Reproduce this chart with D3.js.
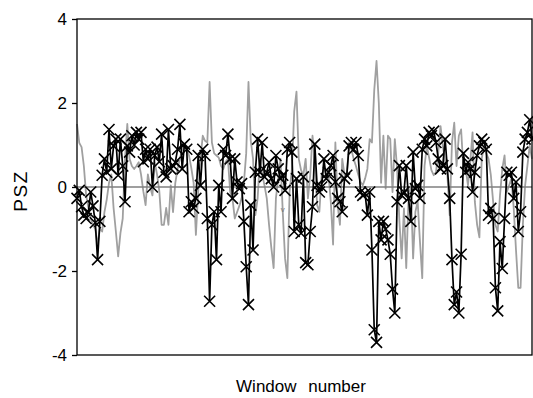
<!DOCTYPE html>
<html><head><meta charset="utf-8">
<script src="https://cdn.jsdelivr.net/npm/d3@7"></script>
<style>body{margin:0;background:#fff}svg{display:block}</style>
</head><body><svg id="c" width="533" height="398"></svg>
<script>
const yTicks = [-4, -2, 0, 2, 4];
const yLabel = "PSZ";
const xLabel = "Window number";
const blackSeries = [
-0.27,-0.08,-0.47,-0.67,-0.75,-0.6,-0.12,-0.45,-0.85,-1.73,
-0.82,0.28,0.67,0.35,1.37,0.43,0.98,1.14,0.28,1.14,
0.5,-0.35,0.98,0.83,1.22,1.0,1.3,1.14,1.3,0.6,
0.9,0.67,0.9,0.0,0.75,0.95,0.6,1.26,0.35,0.24,
1.37,0.43,0.51,0.59,0.9,1.49,0.43,1.02,0.9,-0.59,
-0.35,-0.5,-0.27,0.75,0.04,0.9,0.75,-0.75,-2.72,-0.9,
-0.59,-1.73,0.04,-0.59,0.9,0.75,1.26,0.67,-0.27,0.67,
0.12,-0.04,0.08,-0.82,-1.9,-2.8,-0.43,-1.5,0.35,1.14,
0.35,1.06,0.24,0.35,0.59,0.2,0.0,0.75,0.43,0.2,
0.28,-0.08,0.9,1.06,0.83,-1.06,0.2,-0.9,-1.1,0.24,
-1.8,-1.85,-1.06,-0.47,1.02,0.04,-0.12,0,0.67,0.2,
0.35,0.51,0.75,0.12,-0.27,-0.35,-0.59,0.2,0.28,0.98,
1.06,0.9,1.06,0.75,-0.12,-0.2,-0.16,-0.67,-0.12,-1.5,
-3.4,-3.7,-0.82,-1.26,-0.82,-1.0,-1.26,-1.6,-2.43,-3.0,
-0.35,0.51,-0.2,-0.12,0.51,-0.27,-0.82,0.83,-0.04,0.04,
-0.27,0.9,1.14,0.98,1.3,1.22,1.33,1.06,0.67,0.43,
0.51,1.14,0.43,-0.27,-1.73,-2.8,-2.5,-3.0,-1.6,0.8,
0.35,0.59,0.43,-0.12,0.35,0.75,0.98,1.14,1.06,0.9,
-0.67,-0.51,-0.75,-2.4,-2.95,-1.3,-1.94,-0.75,0.35,0.28,
0.35,-0.27,0.12,-1.06,-0.59,0.83,1.14,1.3,1.6,1.14
];
const graySeries = [
1.5,1.05,0.95,0.5,-0.2,-0.5,-0.75,-0.9,-1.0,-1.37,
-1.0,-1.06,-0.6,-0.3,0.1,0.3,-0.5,-1.06,-1.65,-1.1,
-0.75,0.67,1.5,0.67,0.5,0.43,0.5,0.59,0.3,-0.1,
-0.43,0.3,0.0,-0.2,0.59,0.3,-0.1,-0.9,-0.9,-0.5,
-0.9,0.04,-0.6,0.1,0.43,0.67,0.9,0.98,0.9,0.75,
0.45,0.1,-1.14,-0.12,0.67,1.22,1.1,1.06,2.5,1.06,
0.8,0.75,0.7,0.5,0.43,0.6,0.67,-0.12,-0.27,-0.75,
-0.6,-0.45,-0.27,0.1,0.8,2.5,1.1,0.67,-0.67,-0.27,
0.67,0.3,0.04,-0.27,-0.9,-1.45,-1.93,-0.27,0.2,0.67,
-0.6,-1.7,-2.17,-0.1,0.43,1.8,2.27,0.67,0.4,0.28,
0.67,-0.27,0.28,1.22,0.67,-0.43,-0.59,0.28,0.43,0.3,
0.28,-0.35,-1.37,1.06,-0.43,-0.9,0.67,0.28,0.28,1.06,
0.9,0.67,0.5,0.3,0.12,0.04,0.2,0.43,1.14,1.06,
2.3,3.0,2.0,0.1,1.22,-0.04,1.22,1.14,-0.12,1.14,
0.43,-0.8,-1.7,-0.51,-1.93,-0.27,0.04,-1.7,-0.59,-0.35,
-1.3,-2.17,0.5,0.98,0.7,0.4,0.28,0.35,0.8,1.45,
0.98,0.6,0.28,-0.67,1.06,1.53,0.5,1.22,1.37,0.43,
0.43,0.04,0.6,1.3,-0.35,-0.9,-1.2,0.67,0.98,0.8,
0.67,0.28,-0.35,-0.9,-1.06,-0.2,0.43,0.75,-0.12,0.04,
0.2,-0.5,-1.5,-2.4,-2.4,-0.9,0.04,0.51,0.98,0.67
];

const svg = d3.select("#c");
const L = 77, R = 532, T = 19, B = 355;
const x = d3.scaleLinear().domain([1, blackSeries.length]).range([L, R]);
const y = d3.scaleLinear().domain([-4, 4]).range([B, T]);
const font = "'Liberation Sans', Arial, sans-serif";

// gray series
svg.append("path")
  .datum(graySeries)
  .attr("fill", "none")
  .attr("stroke", "#a0a0a0")
  .attr("stroke-width", 1.8)
  .attr("stroke-linejoin", "round")
  .attr("d", d3.line().x((d, i) => x(i + 1)).y(d => y(d)));

// zero line
svg.append("line")
  .attr("x1", L).attr("x2", R)
  .attr("y1", y(0)).attr("y2", y(0))
  .attr("stroke", "#7f7f7f").attr("stroke-width", 1.4);

// black series
svg.append("path")
  .datum(blackSeries)
  .attr("fill", "none")
  .attr("stroke", "#000")
  .attr("stroke-width", 1.7)
  .attr("stroke-linejoin", "round")
  .attr("d", d3.line().x((d, i) => x(i + 1)).y(d => y(d)));

const s = 5.5;
const marks = svg.append("g");
blackSeries.forEach((d, i) => {
  const cx = x(i + 1), cy = y(d);
  marks.append("path")
    .attr("d", `M${cx - s},${cy - s}L${cx + s},${cy + s}M${cx - s},${cy + s}L${cx + s},${cy - s}`)
    .attr("stroke", "#000").attr("stroke-width", 1.6).attr("fill", "none");
});

// small stray label
svg.append("text").attr("x", x(91)).attr("y", y(-0.6))
  .attr("font-family", font).attr("font-size", 8).attr("fill", "#777")
  .attr("text-anchor", "middle").text("v");

// frame
svg.append("rect").attr("x", L).attr("y", T).attr("width", R - L).attr("height", B - T)
  .attr("fill", "none").attr("stroke", "#000").attr("stroke-width", 1.3);

// y axis
const yAxis = d3.axisLeft(y).tickValues(yTicks).tickSize(5).tickPadding(5).tickFormat(d => String(d));
const ga = svg.append("g").attr("transform", `translate(${L},0)`).call(yAxis);
ga.select(".domain").remove();
ga.selectAll("line").attr("stroke", "#000").attr("stroke-width", 1.3);
ga.selectAll("text").attr("font-family", font).attr("font-size", 17).attr("fill", "#000");

svg.append("text")
  .attr("transform", `translate(27,191) rotate(-90)`)
  .attr("text-anchor", "middle")
  .attr("letter-spacing", 1.5)
  .attr("font-family", font).attr("font-size", 19).text(yLabel);

svg.append("text")
  .attr("x", 301).attr("y", 392)
  .attr("text-anchor", "middle")
  .attr("word-spacing", 7)
  .attr("font-family", font).attr("font-size", 17).text(xLabel);
</script></body></html>
